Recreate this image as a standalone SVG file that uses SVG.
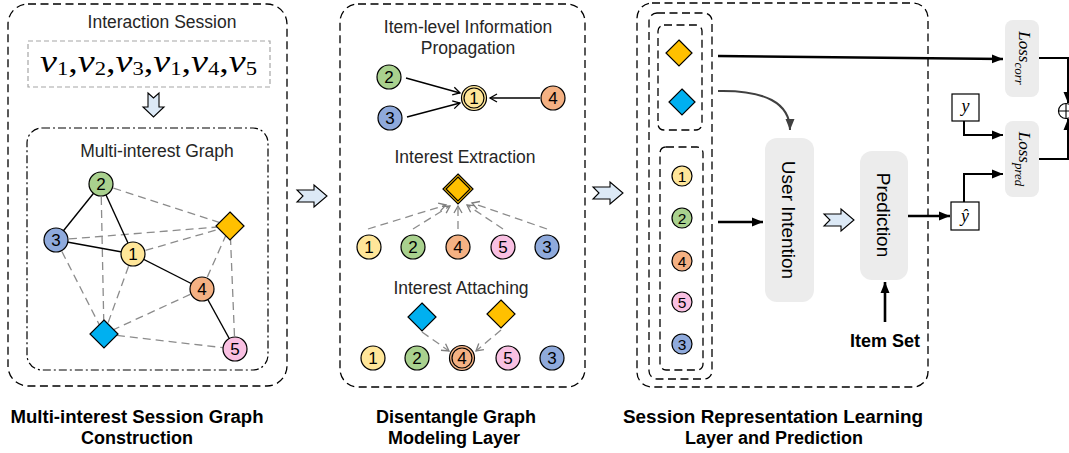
<svg xmlns="http://www.w3.org/2000/svg" width="1069" height="453" viewBox="0 0 1069 453">
  <style>
    .panel { fill: none; stroke: #000; stroke-width: 1.3; stroke-dasharray: 8 4.5; }
    .dashdot { fill: none; stroke: #000; stroke-width: 1.2; stroke-dasharray: 8 3 2 3; }
    .seq { fill: #fff; stroke: #a6a6a6; stroke-width: 1.2; stroke-dasharray: 5 3; }
    .lbl { font-family: "Liberation Sans", Arial, sans-serif; font-size: 17.5px; fill: #262626; text-anchor: middle; }
    .num { font-family: "Liberation Sans", Arial, sans-serif; font-size: 17px; fill: #000; text-anchor: middle; }
    .nums { font-family: "Liberation Sans", Arial, sans-serif; font-size: 15.5px; fill: #000; text-anchor: middle; }
    .title { font-family: "Liberation Sans", Arial, sans-serif; font-size: 18px; font-weight: bold; fill: #000; text-anchor: middle; }
    .box { fill: #ececec; stroke: none; }
    .vtxt { font-family: "Liberation Sans", Arial, sans-serif; font-size: 19px; fill: #000; text-anchor: middle; }
    .math { font-family: "Liberation Serif", "Times New Roman", serif; font-style: italic; fill: #000; }
    .n { stroke: #000; stroke-width: 1.2; }
    .c1 { fill: #ffe699; } .c2 { fill: #a9d18e; } .c3 { fill: #8faadc; } .c4 { fill: #f4b183; } .c5 { fill: #f9c0e2; }
    .dO { fill: #ffc000; stroke: #000; stroke-width: 1.2; }
    .dB { fill: #00b0f0; stroke: #000; stroke-width: 1.2; }
    .solid { stroke: #000; stroke-width: 1.4; fill: none; }
    .gdash { stroke: #8c8c8c; stroke-width: 1.3; stroke-dasharray: 8 5; fill: none; }
    .blk { fill: #dce9f6; stroke: #000; stroke-width: 1.1; }
    .thick { stroke: #000; stroke-width: 2.6; fill: none; }
    .med { stroke: #000; stroke-width: 2; fill: none; }
  </style>
  <defs>
    <marker id="open" markerWidth="10" markerHeight="10" refX="8" refY="5" orient="auto" markerUnits="userSpaceOnUse">
      <path d="M1,1 L8,5 L1,9" fill="none" stroke="#000" stroke-width="1.3"/>
    </marker>
    <marker id="openG" markerWidth="10" markerHeight="10" refX="8" refY="5" orient="auto" markerUnits="userSpaceOnUse">
      <path d="M1,1 L8,5 L1,9" fill="none" stroke="#7f7f7f" stroke-width="1.3"/>
    </marker>
    <marker id="fill" markerWidth="12" markerHeight="10" refX="11" refY="5" orient="auto" markerUnits="userSpaceOnUse">
      <path d="M0,0.5 L11,5 L0,9.5 Z" fill="#000"/>
    </marker>
    <marker id="fillG" markerWidth="12" markerHeight="10" refX="11" refY="5" orient="auto" markerUnits="userSpaceOnUse">
      <path d="M0,0.5 L11,5 L0,9.5 Z" fill="#404040"/>
    </marker>
    <path id="blockR" d="M-15,-6 L2,-6 L2,-11 L15,0 L2,11 L2,6 L-15,6 L-9,0 Z"/>
  </defs>

  <!-- ============ Panel 1: session graph construction ============ -->
  <g id="panel-construction">
    <rect class="panel" x="8" y="4" width="279" height="382" rx="20"/>
    <text class="lbl" x="162" y="28">Interaction Session</text>
    <rect class="seq" x="28" y="41" width="242" height="46"/>
    <text class="math" x="40" y="72" font-size="32" textLength="217" lengthAdjust="spacingAndGlyphs">v<tspan font-size="19" font-style="normal" dy="3">1</tspan><tspan font-style="normal" dy="-3">,</tspan>v<tspan font-size="19" font-style="normal" dy="3">2</tspan><tspan font-style="normal" dy="-3">,</tspan>v<tspan font-size="19" font-style="normal" dy="3">3</tspan><tspan font-style="normal" dy="-3">,</tspan>v<tspan font-size="19" font-style="normal" dy="3">1</tspan><tspan font-style="normal" dy="-3">,</tspan>v<tspan font-size="19" font-style="normal" dy="3">4</tspan><tspan font-style="normal" dy="-3">,</tspan>v<tspan font-size="19" font-style="normal" dy="3">5</tspan></text>
    <path class="blk" d="M148,93 L153.5,98 L159,93 L159,107 L164,107 L153.5,117 L143,107 L148,107 Z"/>
    <rect class="dashdot" x="27" y="128" width="241" height="242" rx="15"/>
    <text class="lbl" x="157" y="157">Multi-interest Graph</text>
  </g>

  <!-- graph edges -->
  <g id="graph-edges">
    <line class="gdash" x1="101" y1="184" x2="230" y2="226"/>
    <line class="gdash" x1="101" y1="184" x2="104" y2="334"/>
    <line class="gdash" x1="56" y1="240" x2="230" y2="226"/>
    <line class="gdash" x1="133" y1="254" x2="230" y2="226"/>
    <line class="gdash" x1="56" y1="240" x2="104" y2="334"/>
    <line class="gdash" x1="133" y1="254" x2="104" y2="334"/>
    <line class="gdash" x1="202" y1="289" x2="104" y2="334"/>
    <line class="gdash" x1="202" y1="289" x2="230" y2="226"/>
    <line class="gdash" x1="235" y1="349" x2="230" y2="226"/>
    <line class="gdash" x1="104" y1="334" x2="235" y2="349"/>
    <line class="solid" x1="101" y1="184" x2="56" y2="240"/>
    <line class="solid" x1="101" y1="184" x2="133" y2="254"/>
    <line class="solid" x1="56" y1="240" x2="133" y2="254"/>
    <line class="solid" x1="133" y1="254" x2="202" y2="289"/>
    <line class="solid" x1="202" y1="289" x2="235" y2="349"/>
  </g>

  <g id="g-node2"><circle class="n c2" cx="101" cy="184" r="12"/><text class="num" x="101" y="190">2</text></g>
  <g id="g-node3"><circle class="n c3" cx="56" cy="240" r="12"/><text class="num" x="56" y="246">3</text></g>
  <g id="g-node1"><circle class="n c1" cx="133" cy="254" r="12"/><text class="num" x="133" y="260">1</text></g>
  <g id="g-node4"><circle class="n c4" cx="202" cy="289" r="12"/><text class="num" x="202" y="295">4</text></g>
  <g id="g-node5"><circle class="n c5" cx="235" cy="349" r="12"/><text class="num" x="235" y="355">5</text></g>
  <g id="g-interest-orange"><path class="dO" d="M230,212 L244,226 L230,240 L216,226 Z"/></g>
  <g id="g-interest-blue"><path class="dB" d="M104,320 L118,334 L104,348 L90,334 Z"/></g>

  <!-- block arrows between stages -->
  <g id="step-arrow-1"><use href="#blockR" class="blk" x="312" y="196"/></g>
  <g id="step-arrow-2"><use href="#blockR" class="blk" x="608" y="193"/></g>

  <!-- ============ Panel 2: disentangle graph modeling ============ -->
  <g id="panel-disentangle">
    <rect class="panel" x="340" y="4" width="245" height="383" rx="18"/>
    <text class="lbl" x="468" y="33">Item-level Information</text>
    <text class="lbl" x="468" y="54">Propagation</text>
    <text class="lbl" x="465" y="163">Interest Extraction</text>
    <text class="lbl" x="461" y="294">Interest Attaching</text>
  </g>

  <g id="middle-edges">
    <line class="solid" x1="406" y1="78" x2="460" y2="93" marker-end="url(#open)"/>
    <line class="solid" x1="407" y1="117" x2="460" y2="103" marker-end="url(#open)"/>
    <line class="solid" x1="540" y1="98" x2="490" y2="98" marker-end="url(#open)"/>
    <line class="gdash" x1="368" y1="229" x2="446" y2="205" marker-end="url(#openG)"/>
    <line class="gdash" x1="413" y1="229" x2="450" y2="206" marker-end="url(#openG)"/>
    <line class="gdash" x1="458" y1="229" x2="458" y2="206" marker-end="url(#openG)"/>
    <line class="gdash" x1="503" y1="229" x2="467" y2="205" marker-end="url(#openG)"/>
    <line class="gdash" x1="547" y1="229" x2="472" y2="203" marker-end="url(#openG)"/>
    <line class="gdash" x1="422" y1="332" x2="449" y2="351" marker-end="url(#openG)"/>
    <line class="gdash" x1="501" y1="330" x2="476" y2="351" marker-end="url(#openG)"/>
  </g>

  <!-- propagation -->
  <g id="p-node2"><circle class="n c2" cx="389" cy="77" r="12"/><text class="num" x="389" y="83">2</text></g>
  <g id="p-node3"><circle class="n c3" cx="390" cy="118" r="12"/><text class="num" x="390" y="124">3</text></g>
  <g id="p-node1"><circle class="n c1" cx="474" cy="98" r="12.5"/><circle class="n c1" cx="474" cy="98" r="10"/><text class="num" x="474" y="104">1</text></g>
  <g id="p-node4"><circle class="n c4" cx="553" cy="98" r="12"/><text class="num" x="553" y="104">4</text></g>

  <!-- extraction -->
  <g id="e-interest"><path class="dO" d="M458,174 L473,189 L458,204 L443,189 Z"/><path class="dO" d="M458,177 L470,189 L458,201 L446,189 Z"/></g>
  <g id="e-node1"><circle class="n c1" cx="369" cy="247" r="12"/><text class="num" x="369" y="253">1</text></g>
  <g id="e-node2"><circle class="n c2" cx="413" cy="247" r="12"/><text class="num" x="413" y="253">2</text></g>
  <g id="e-node4"><circle class="n c4" cx="458" cy="247" r="12"/><text class="num" x="458" y="253">4</text></g>
  <g id="e-node5"><circle class="n c5" cx="503" cy="247" r="12"/><text class="num" x="503" y="253">5</text></g>
  <g id="e-node3"><circle class="n c3" cx="547" cy="247" r="12"/><text class="num" x="547" y="253">3</text></g>

  <!-- attaching -->
  <g id="a-interest-blue"><path class="dB" d="M422,303 L436,317 L422,331 L408,317 Z"/></g>
  <g id="a-interest-orange"><path class="dO" d="M501,300 L515,314 L501,328 L487,314 Z"/></g>
  <g id="a-node1"><circle class="n c1" cx="373" cy="358" r="12"/><text class="num" x="373" y="364">1</text></g>
  <g id="a-node2"><circle class="n c2" cx="417" cy="358" r="12"/><text class="num" x="417" y="364">2</text></g>
  <g id="a-node4"><circle class="n c4" cx="462" cy="358" r="12.5"/><circle class="n c4" cx="462" cy="358" r="10"/><text class="num" x="462" y="364">4</text></g>
  <g id="a-node5"><circle class="n c5" cx="508" cy="358" r="12"/><text class="num" x="508" y="364">5</text></g>
  <g id="a-node3"><circle class="n c3" cx="552" cy="358" r="12"/><text class="num" x="552" y="364">3</text></g>

  <!-- ============ Panel 3: representation learning and prediction ============ -->
  <g id="panel-representation">
    <rect class="panel" x="637" y="3" width="291" height="384" rx="15"/>
    <rect class="panel" x="649" y="13" width="63" height="366" rx="8"/>
    <rect class="panel" x="658" y="25" width="44" height="105" rx="6"/>
    <rect class="panel" x="660" y="147" width="43" height="223" rx="6"/>
  </g>

  <g id="r-interest-orange"><path class="dO" d="M679,40 L692,53 L679,66 L666,53 Z"/></g>
  <g id="r-interest-blue"><path class="dB" d="M682,89 L695,102 L682,115 L669,102 Z"/></g>
  <g id="r-node1"><circle class="n c1" cx="682" cy="176" r="10"/><text class="nums" x="682" y="181.5">1</text></g>
  <g id="r-node2"><circle class="n c2" cx="682" cy="218" r="10"/><text class="nums" x="682" y="223.5">2</text></g>
  <g id="r-node4"><circle class="n c4" cx="682" cy="261" r="10"/><text class="nums" x="682" y="266.5">4</text></g>
  <g id="r-node5"><circle class="n c5" cx="682" cy="302" r="10"/><text class="nums" x="682" y="307.5">5</text></g>
  <g id="r-node3"><circle class="n c3" cx="682" cy="344" r="10"/><text class="nums" x="682" y="349.5">3</text></g>

  <g id="user-intention">
    <rect class="box" x="765" y="138" width="49" height="164" rx="12"/>
    <text class="vtxt" transform="translate(789,220) rotate(90)" y="7">User Intention</text>
  </g>
  <g id="prediction">
    <rect class="box" x="860" y="151" width="48" height="129" rx="12"/>
    <text class="vtxt" transform="translate(884,215) rotate(90)" y="7">Prediction</text>
  </g>
  <g id="step-arrow-3"><use href="#blockR" class="blk" x="839" y="220"/></g>
  <g id="item-set"><text class="title" x="885" y="347" font-size="19">Item Set</text></g>

  <g id="y-hat"><rect x="951" y="202" width="28" height="28" fill="#fff" stroke="#000" stroke-width="1.2"/><text class="math" x="965" y="222" font-size="18" text-anchor="middle">ŷ</text></g>
  <g id="y-true"><rect x="952" y="94" width="27" height="27" fill="#fff" stroke="#000" stroke-width="1.2"/><text class="math" x="965.5" y="112" font-size="18" text-anchor="middle">y</text></g>

  <g id="loss-corr">
    <rect class="box" x="1005" y="20" width="34" height="77" rx="8"/>
    <text class="math" transform="translate(1022,58) rotate(90)" y="3" font-size="17" text-anchor="middle">Loss<tspan font-size="13" dy="4">corr</tspan></text>
  </g>
  <g id="loss-pred">
    <rect class="box" x="1005" y="121" width="34" height="76" rx="8"/>
    <text class="math" transform="translate(1022,159) rotate(90)" y="3" font-size="17" text-anchor="middle">Loss<tspan font-size="13" dy="4">pred</tspan></text>
  </g>
  <g id="sum">
    <circle cx="1066" cy="111" r="7.5" fill="#fff" stroke="#000" stroke-width="1.2"/>
    <path d="M1058.5,111 H1069 M1066,103.5 V118.5" stroke="#000" stroke-width="1.1"/>
  </g>

  <!-- connectors of the prediction stage -->
  <g id="connectors">
    <line class="thick" x1="718" y1="56" x2="1003" y2="59" marker-end="url(#fill)"/>
    <path d="M718,91 C765,90 790,103 790,130" stroke="#404040" stroke-width="2" fill="none" marker-end="url(#fillG)"/>
    <line class="thick" x1="718" y1="222" x2="763" y2="222" marker-end="url(#fill)"/>
    <line class="thick" x1="885" y1="322" x2="885" y2="282" marker-end="url(#fill)"/>
    <line class="thick" x1="908" y1="216" x2="950" y2="216" marker-end="url(#fill)"/>
    <path class="med" d="M964,121 V135 H1003" marker-end="url(#fill)"/>
    <path class="med" d="M964,202 V174 H1003" marker-end="url(#fill)"/>
    <path class="med" d="M1039,58 H1068 V103" marker-end="url(#fill)"/>
    <path class="med" d="M1039,159 H1068 V119" marker-end="url(#fill)"/>
  </g>

  <!-- stage captions -->
  <g id="captions">
    <text class="title" x="137" y="423" textLength="253" lengthAdjust="spacingAndGlyphs">Multi-interest Session Graph</text>
    <text class="title" x="137" y="444">Construction</text>
    <text class="title" x="456" y="423">Disentangle Graph</text>
    <text class="title" x="454" y="444">Modeling Layer</text>
    <text class="title" x="773" y="423" textLength="300" lengthAdjust="spacingAndGlyphs">Session Representation Learning</text>
    <text class="title" x="774" y="444">Layer and Prediction</text>
  </g>
</svg>
